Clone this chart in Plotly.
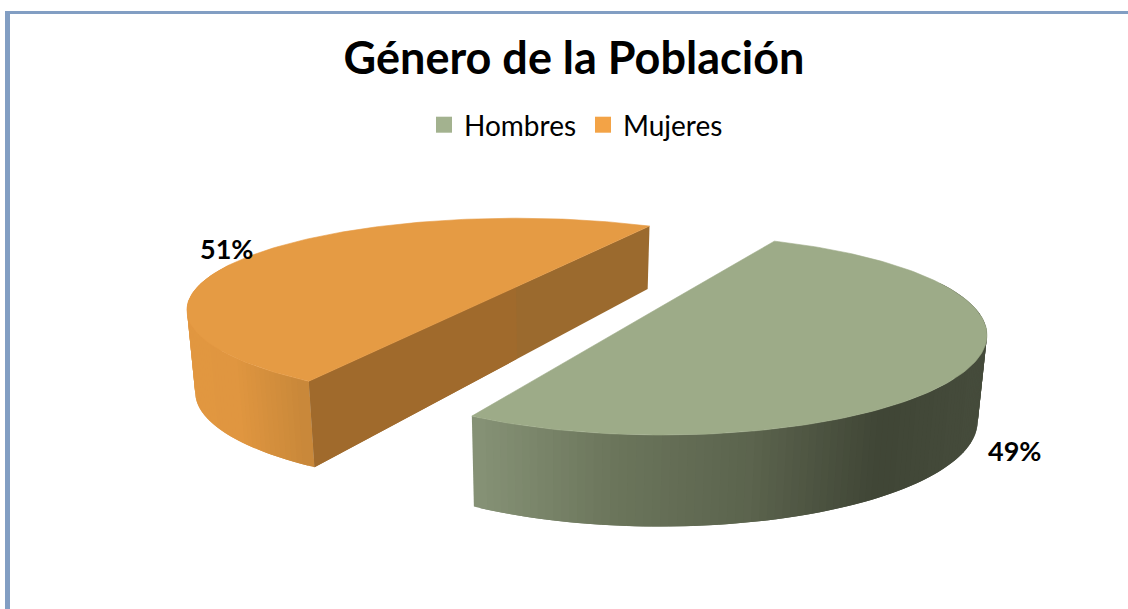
import numpy as np
import plotly.graph_objects as go

# data
labels = ["Hombres", "Mujeres"]
values = [49, 51]
legend_colors = ["#A3B28F", "#F3A346"]
top_colors = ["#9DAB88", "#E59B44"]
title_text = "Género de la Población"

FONT = "Lato"
W, H = 1128, 609
FIRST_ANGLE = 28.8  # clockwise from 12 o'clock, like the spreadsheet option


def project(view, t):
    """Circle angle (deg) -> pixel position of the top rim, with foreshortening."""
    rad = np.radians(t)
    X, Y = np.cos(rad), np.sin(rad)
    w = 1 + view["k"] * Y
    return view["cx"] + view["A"] * X / w, view["cy"] - view["B"] * Y / w, w


def drop(x, y, w, wall):
    """Same point on the lower rim of the pie."""
    height = np.where(w > 1, wall / w ** 1.3, wall / w ** 0.25)
    return 565 + 0.978 * (x - 565), y + height


def shade(stops, f):
    rgb = [np.interp(f, [s[0] for s in stops], [s[1][i] for s in stops]) for i in range(3)]
    return "rgb(%d,%d,%d)" % tuple(rgb)


def add_quad(fig, x0, y0, x1, y1, x2, y2, x3, y3, color):
    fig.add_trace(go.Scatter(
        x=[x0, x1, x2, x3, x0], y=[y0, y1, y2, y3, y0],
        mode="lines", fill="toself", fillcolor=color,
        line=dict(width=0),
        hoverinfo="skip", showlegend=False,
    ))


views = {
    "Hombres": dict(cx=662, cy=306, A=311, B=91.6, k=0.29, twist=0, stretch=1.02, wall=84),
    "Mujeres": dict(cx=516, cy=287, A=318.6, B=86, k=0.25, twist=3.65, stretch=0.98, wall=81),
}
# wall shading, left to right over the width of each slice
wall_stops = {
    "Hombres": [(0, (136, 148, 120)), (0.28, (108, 118, 92)), (0.55, (92, 100, 78)),
                (0.8, (64, 70, 54)), (1, (70, 76, 60))],
    "Mujeres": [(0, (226, 152, 64)), (0.12, (224, 150, 64)), (0.27, (200, 136, 58)), (1, (200, 136, 58))],
}
spoke_colors = ["#A06A2C", "#9B6A2E"]

fig = go.Figure()

# slice angles come from the values
sweeps = [v / sum(values) * 360 for v in values]
starts = [FIRST_ANGLE, FIRST_ANGLE + sweeps[0]]

for i in [1, 0]:
    name = labels[i]
    view = views[name]
    mid = starts[i] + sweeps[i] / 2 + view["twist"]
    half = sweeps[i] / 2 * view["stretch"]
    clock = np.linspace(mid - half, mid + half, 161)
    t = 90 - clock
    x, y, w = project(view, t)
    bx, by = drop(x, y, w, view["wall"])

    # outer wall, strips overlap so no seams show
    xmin, xmax = x.min(), x.max()
    order = range(len(t) - 2) if i == 0 else range(len(t) - 3, -1, -1)
    for j in order:
        if np.sin(np.radians(t[j])) > 0.25 and np.sin(np.radians(t[j + 2])) > 0.25:
            continue
        color = shade(wall_stops[name], (x[j] - xmin) / (xmax - xmin))
        add_quad(fig, x[j], y[j], x[j + 2], y[j + 2], bx[j + 2], by[j + 2], bx[j], by[j], color)
    if i == 1:
        # cut faces are only visible on the far slice
        cx, cy = view["cx"], view["cy"]
        frac = (cx - x[0]) / (x[-1] - x[0])
        ccx = bx[0] + frac * (bx[-1] - bx[0])
        ccy = by[0] + frac * (by[-1] - by[0])
        add_quad(fig, x[0], y[0], x[-1], y[-1], bx[-1], by[-1], bx[0], by[0], spoke_colors[1])
        add_quad(fig, x[0], y[0], cx, cy, ccx, ccy, bx[0], by[0], spoke_colors[0])

    # top face
    fig.add_trace(go.Scatter(
        x=np.r_[view["cx"], x, view["cx"]], y=np.r_[view["cy"], y, view["cy"]],
        mode="lines", fill="toself", fillcolor=top_colors[i],
        line=dict(color=top_colors[i], width=0.6),
        hoverinfo="skip", showlegend=False,
    ))

# legend entries
for name, color in zip(labels, legend_colors):
    fig.add_trace(go.Scatter(
        x=[None], y=[None], mode="markers", name=name,
        marker=dict(symbol="square", size=16, color=color),
    ))

fig.add_annotation(x=226, y=248, text=f"{values[1]}%", showarrow=False,
                   font=dict(family=FONT, size=27, color="black", weight="bold"))
fig.add_annotation(x=1014, y=450, text=f"{values[0]}%", showarrow=False,
                   font=dict(family=FONT, size=27, color="black", weight="bold"))

# frame on top and left
fig.add_shape(type="rect", x0=5, x1=10, y0=11, y1=H, fillcolor="#829EC3", line_width=0, layer="below")
fig.add_shape(type="rect", x0=5, x1=W, y0=11, y1=14, fillcolor="#829EC3", line_width=0, layer="below")

fig.update_layout(
    width=W, height=H,
    margin=dict(l=0, r=0, t=0, b=0),
    paper_bgcolor="white", plot_bgcolor="white",
    title=dict(text=f"<b>{title_text}</b>", x=574 / W, xanchor="center", y=1 - 58 / H, yanchor="middle",
               font=dict(family=FONT, size=45, color="black")),
    legend=dict(orientation="h", x=583 / W, xanchor="center", y=1 - 125 / H, yanchor="middle",
                font=dict(family=FONT, size=28, color="black"), itemwidth=30, entrywidth=114,
                bgcolor="rgba(0,0,0,0)"),
    xaxis=dict(range=[0, W], visible=False, fixedrange=True),
    yaxis=dict(range=[H, 0], visible=False, fixedrange=True),
)

fig.write_html("out.html", config=dict(displayModeBar=False),
               post_script="document.body.style.margin='0';document.body.style.overflow='hidden';")
